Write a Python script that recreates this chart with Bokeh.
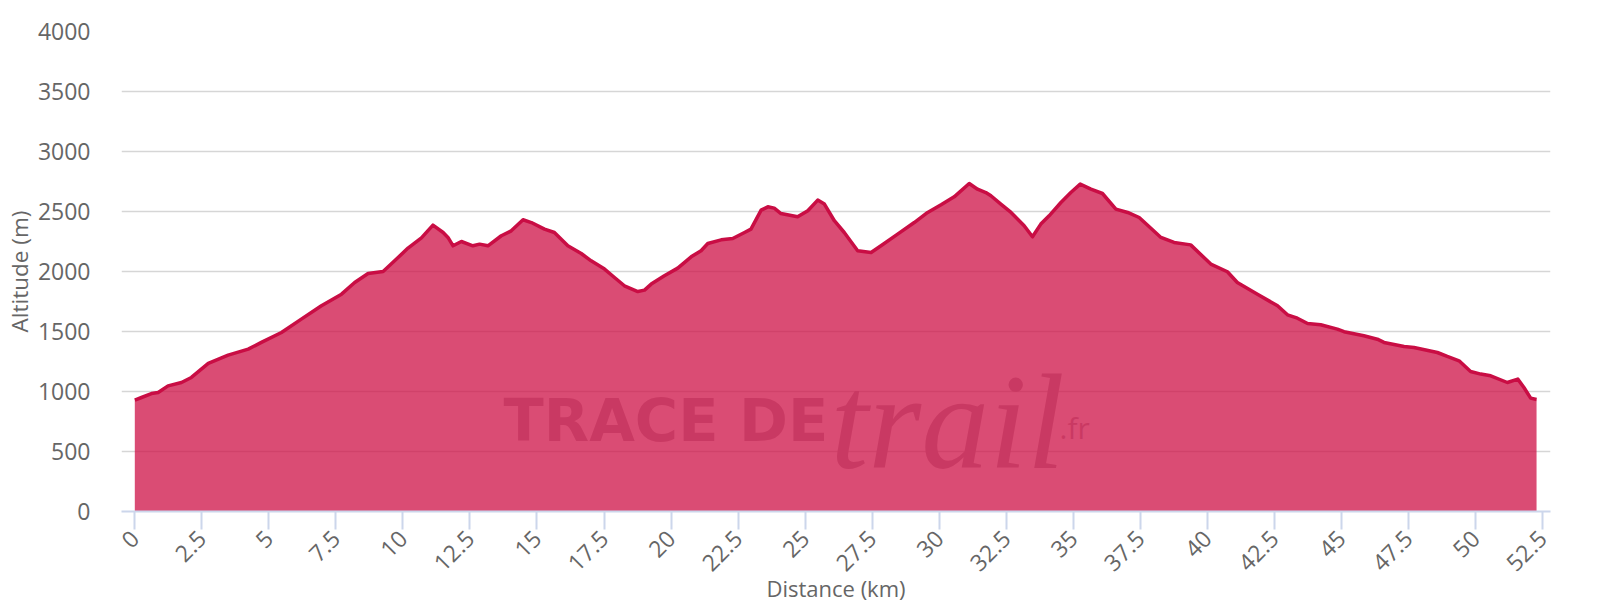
from bokeh.plotting import figure
from bokeh.models import Range1d, FixedTicker, Label, Title
from bokeh.embed import file_html
from bokeh.resources import INLINE
import math

# ---- data ----
distance_km = [0.0, 0.25, 0.62, 0.87, 1.24, 1.74, 2.11, 2.74, 3.48, 4.23, 4.72, 5.47, 6.21, 6.96,
               7.71, 8.2, 8.7, 9.26, 9.69, 10.19, 10.69, 11.12, 11.5, 11.68, 11.87, 12.18, 12.61,
               12.86, 13.17, 13.67, 14.04, 14.48, 14.79, 15.28, 15.65, 16.15, 16.65, 17.02, 17.52,
               17.89, 18.26, 18.76, 19.01, 19.26, 19.75, 20.25, 20.75, 21.12, 21.37, 21.87, 22.3,
               22.74, 22.98, 23.36, 23.61, 23.85, 24.1, 24.72, 25.1, 25.47, 25.72, 26.09, 26.46,
               26.96, 27.46, 27.83, 28.45, 29.07, 29.57, 30.07, 30.56, 31.12, 31.43, 31.74, 31.93,
               32.3, 32.68, 33.17, 33.48, 33.79, 34.1, 34.54, 34.91, 35.26, 35.66, 36.09, 36.59,
               37.03, 37.46, 38.27, 38.76, 39.38, 40.13, 40.75, 41.12, 41.87, 42.62, 42.99, 43.36,
               43.74, 44.23, 44.85, 45.1, 45.84, 46.34, 46.59, 47.34, 47.71, 48.58, 48.95, 49.39,
               49.82, 50.2, 50.57, 51.19, 51.58, 51.81, 52.06, 52.28]
altitude_m = [928, 950, 983, 992, 1047, 1075, 1117, 1234, 1303, 1353, 1409, 1492, 1603, 1714,
              1811, 1908, 1983, 2000, 2089, 2195, 2280, 2386, 2325, 2284, 2214, 2250, 2214,
              2228, 2214, 2298, 2339, 2431, 2408, 2353, 2325, 2214, 2150, 2089, 2020,
              1950, 1881, 1833, 1845, 1895, 1964, 2028, 2122, 2173, 2233, 2264, 2275,
              2325, 2353, 2511, 2539, 2528, 2483, 2456, 2506, 2595, 2562, 2423, 2325,
              2173, 2158, 2214, 2311, 2408, 2492, 2556, 2622, 2733, 2686, 2658, 2631,
              2562, 2492, 2381, 2289, 2395, 2464, 2575, 2658, 2728, 2686, 2650, 2520,
              2492, 2450, 2284, 2242, 2222, 2062, 1998, 1908, 1811, 1714, 1639, 1611,
              1567, 1556, 1520, 1498, 1464, 1436, 1409, 1375, 1367, 1325, 1292, 1256,
              1167, 1145, 1131, 1075, 1103, 1033, 945, 933]

x_ticks = [0, 2.5, 5, 7.5, 10, 12.5, 15, 17.5, 20, 22.5, 25, 27.5, 30, 32.5, 35, 37.5, 40,
           42.5, 45, 47.5, 50, 52.5]
x_tick_labels = ["0", "2.5", "5", "7.5", "10", "12.5", "15", "17.5", "20", "22.5", "25", "27.5",
                 "30", "32.5", "35", "37.5", "40", "42.5", "45", "47.5", "50", "52.5"]
y_ticks = [0, 500, 1000, 1500, 2000, 2500, 3000, 3500, 4000]
y_tick_labels = ["0", "500", "1000", "1500", "2000", "2500", "3000", "3500", "4000"]

FONT = "Open Sans"
LABEL_COLOR = "#666666"

p = figure(width=1600, height=600, output_backend="svg", toolbar_location=None,
           x_range=Range1d(-0.496, 52.8), y_range=Range1d(0, 4000),
           min_border_left=120, min_border_right=50, min_border_top=31, min_border_bottom=89)
p.outline_line_color = None
p.background_fill_color = "white"

# grid
p.xgrid.grid_line_color = None
p.ygrid.ticker = FixedTicker(ticks=y_ticks)
p.ygrid.grid_line_color = "#d6d6d6"
p.ygrid.grid_line_width = 1.5

# x axis
p.xaxis.ticker = FixedTicker(ticks=x_ticks)
p.xaxis.major_label_overrides = {t: l for t, l in zip(x_ticks, x_tick_labels)}
p.xaxis.major_label_orientation = math.pi / 4
p.xaxis.axis_line_color = "#ccd6eb"
p.xaxis.axis_line_width = 2
p.xaxis.major_tick_line_color = "#ccd6eb"
p.xaxis.major_tick_line_width = 2
p.xaxis.major_tick_out = 18
p.xaxis.major_tick_in = 0
p.xaxis.minor_tick_line_color = None
p.xaxis.major_label_standoff = 5
p.xaxis.major_label_text_font = FONT
p.xaxis.major_label_text_font_size = "23px"
p.xaxis.major_label_text_color = LABEL_COLOR

# y axis
p.yaxis.ticker = FixedTicker(ticks=y_ticks)
p.yaxis.major_label_overrides = {t: l for t, l in zip(y_ticks, y_tick_labels)}
p.yaxis.axis_line_color = None
p.yaxis.major_tick_line_color = None
p.yaxis.minor_tick_line_color = None
p.yaxis.major_tick_out = 0
p.yaxis.major_tick_in = 0
p.yaxis.major_label_standoff = 31
p.yaxis.major_label_text_font = FONT
p.yaxis.major_label_text_font_size = "23px"
p.yaxis.major_label_text_color = LABEL_COLOR
p.yaxis.axis_label = "Altitude (m)"
p.yaxis.axis_label_text_font = FONT
p.yaxis.axis_label_text_font_size = "22.5px"
p.yaxis.axis_label_text_font_style = "normal"
p.yaxis.axis_label_text_color = LABEL_COLOR
p.yaxis.axis_label_standoff = 0

# watermark (under the translucent area)
WM = "#bdb5ba"
p.add_layout(Label(x=382, y=91, x_units="screen", y_units="screen", text="TRACE DE",
                   text_font="DejaVu Sans", text_font_style="bold", text_font_size="59px",
                   text_color=WM, text_baseline="alphabetic", level="underlay"))
p.add_layout(Label(x=709, y=90, x_units="screen", y_units="screen", text="trail",
                   text_font="Liberation Serif", text_font_style="italic", text_font_size="136px",
                   text_color=WM, text_baseline="alphabetic", level="underlay"))
p.add_layout(Label(x=938, y=84, x_units="screen", y_units="screen", text=".fr",
                   text_font=FONT, text_font_size="30px",
                   text_color=WM, text_baseline="alphabetic", level="underlay"))

# area + line
p.varea(x=distance_km, y1=0, y2=altitude_m, fill_color="#cd1046", fill_alpha=0.75)
p.line(x=distance_km, y=altitude_m, line_color="#c90d44", line_width=3.5, line_join="round")

# x axis title as a below-title taking little layout room; partly cut off, as in the reference
p.add_layout(Title(text="Distance (km)", align="center", vertical_align="bottom", standoff=-22,
                   text_font=FONT, text_font_size="22px", text_font_style="normal",
                   text_color=LABEL_COLOR), "below")

open("out.html", "w").write(file_html(p, INLINE))
